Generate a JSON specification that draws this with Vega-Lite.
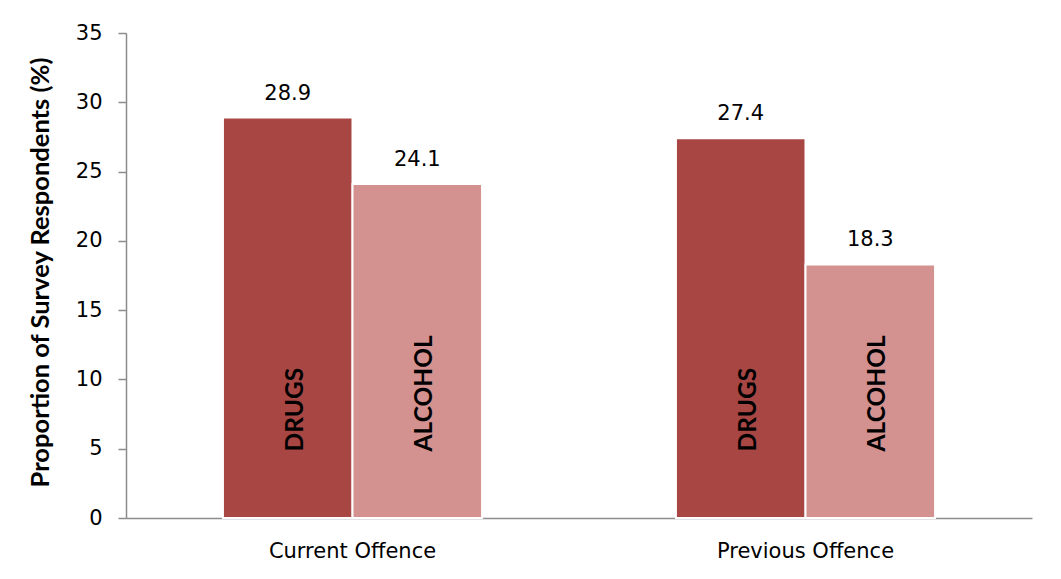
{
  "$schema": "https://vega.github.io/schema/vega-lite/v6.json",
  "width": 906,
  "height": 485,
  "autosize": {"type": "none"},
  "padding": {"left": 126, "top": 33, "right": 29, "bottom": 61},
  "background": "white",
  "config": {"view": {"stroke": null}, "font": "DejaVu Sans"},
  "data": {
    "values": [
      {"offence": "Current Offence", "substance": "DRUGS", "value": 28.9},
      {"offence": "Current Offence", "substance": "ALCOHOL", "value": 24.1},
      {"offence": "Previous Offence", "substance": "DRUGS", "value": 27.4},
      {"offence": "Previous Offence", "substance": "ALCOHOL", "value": 18.3}
    ]
  },
  "encoding": {
    "x": {
      "field": "offence",
      "type": "nominal",
      "sort": ["Current Offence", "Previous Offence"],
      "scale": {"paddingInner": 0.428, "paddingOuter": 0.214},
      "axis": {
        "title": null,
        "labelAngle": 0,
        "labelFontSize": 21,
        "labelFont": "DejaVu Sans",
        "labelColor": "black",
        "ticks": false,
        "tickSize": 0,
        "labelBaseline": "alphabetic",
        "labelPadding": 39,
        "domainColor": "#8c8c8c",
        "domainWidth": 1.5
      }
    },
    "xOffset": {
      "field": "substance",
      "type": "nominal",
      "sort": ["DRUGS", "ALCOHOL"],
      "scale": {"paddingInner": 0, "paddingOuter": 0}
    },
    "y": {
      "field": "value",
      "type": "quantitative",
      "scale": {"domain": [0, 35]},
      "axis": {
        "values": [0, 5, 10, 15, 20, 25, 30, 35],
        "grid": false,
        "tickSize": 8,
        "tickColor": "#8c8c8c",
        "tickWidth": 1.5,
        "domainColor": "#8c8c8c",
        "domainWidth": 1.5,
        "labelFontSize": 21,
        "labelFont": "DejaVu Sans",
        "labelColor": "black",
        "labelPadding": 16,
        "title": "Proportion of Survey Respondents (%)",
        "titleFont": "Lato",
        "titleFontSize": 25.5,
        "titleFontWeight": "bold",
        "titleColor": "black",
        "titleAngle": 270,
        "titleX": -78,
        "titleY": 239,
        "titleAlign": "center",
        "titleBaseline": "alphabetic"
      }
    }
  },
  "layer": [
    {
      "mark": {"type": "bar", "stroke": "white", "strokeWidth": 2},
      "encoding": {
        "color": {
          "field": "substance",
          "type": "nominal",
          "scale": {"domain": ["DRUGS", "ALCOHOL"], "range": ["#A84644", "#D39190"]},
          "legend": null
        }
      }
    },
    {
      "mark": {"type": "text", "baseline": "alphabetic", "dy": -18, "fontSize": 21, "font": "DejaVu Sans", "color": "black"},
      "encoding": {
        "text": {"field": "value", "type": "quantitative", "format": ".1f"}
      }
    },
    {
      "mark": {"type": "text", "angle": 270, "align": "left", "baseline": "alphabetic", "dy": 15, "fontSize": 24.5, "fontWeight": "bold", "font": "Lato", "color": "black"},
      "encoding": {
        "y": {"datum": 4.8},
        "text": {"field": "substance", "type": "nominal"}
      }
    }
  ]
}
